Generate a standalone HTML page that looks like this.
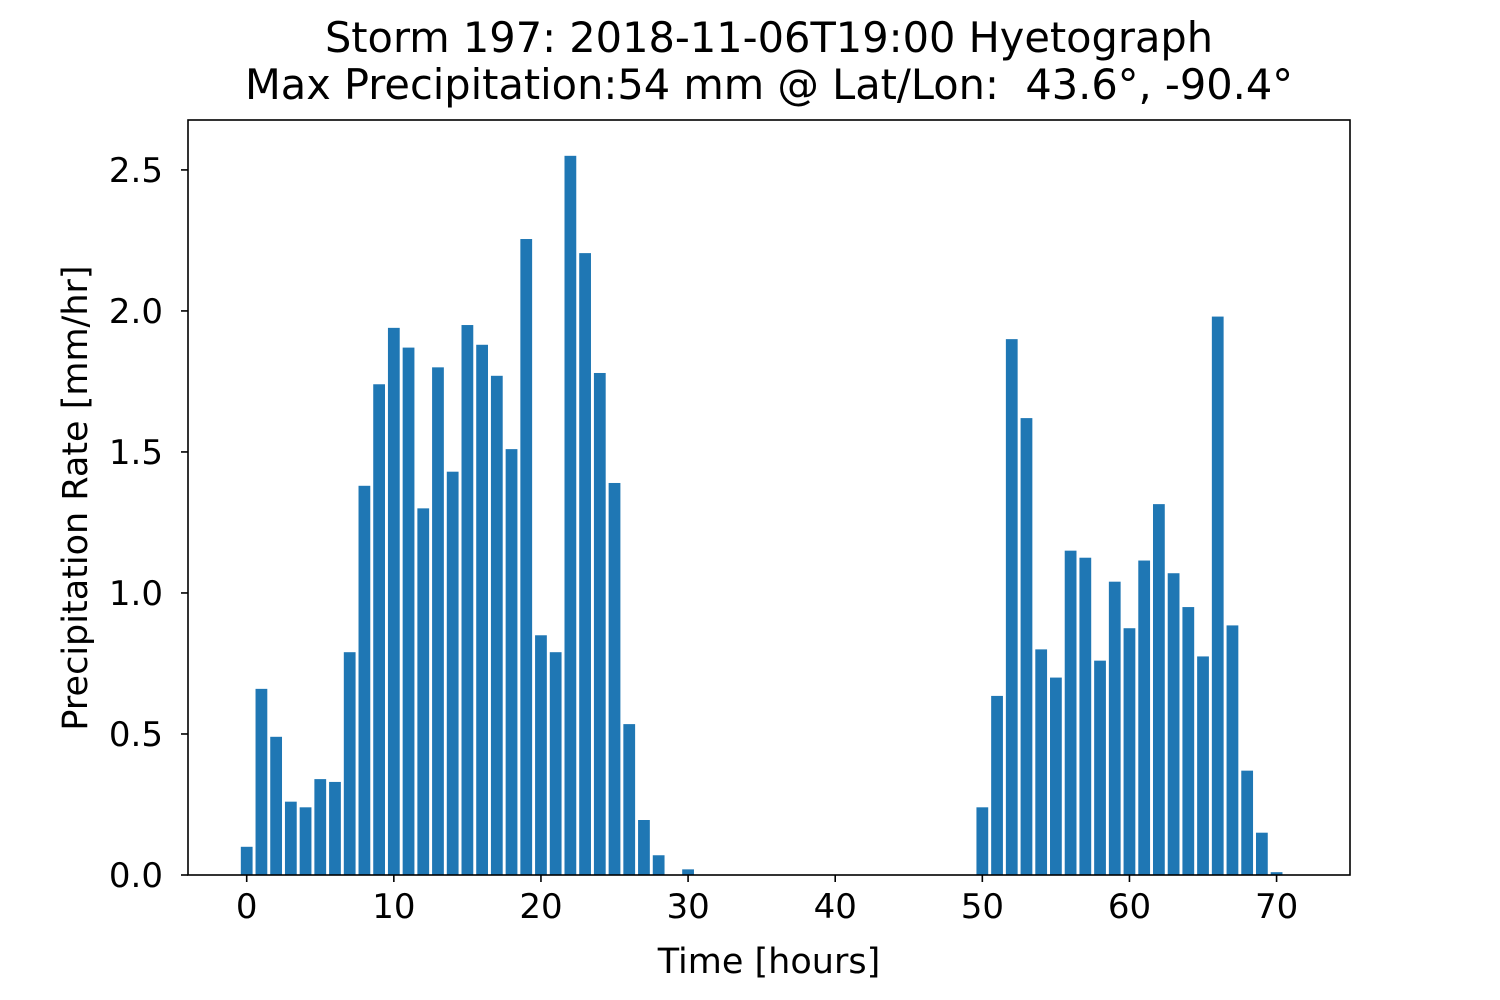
<!DOCTYPE html>
<html><head><meta charset="utf-8"><style>
body{margin:0;background:#fff;}
svg{display:block;font-family:"DejaVu Sans","Liberation Sans",sans-serif;}
</style></head><body>
<svg id="chart" width="1500" height="1000">
<text x="769" y="52" text-anchor="middle" font-size="41.5">Storm 197: 2018-11-06T19:00 Hyetograph</text>
<text x="769" y="99" text-anchor="middle" font-size="41.5">Max Precipitation:54 mm @ Lat/Lon:&#160; 43.6°, -90.4°</text>
<g id="bars"></g>
<g id="xticks"></g>
<g id="yticks"></g>
<rect x="188" y="120" width="1162" height="755" fill="none" stroke="#000" stroke-width="1.6"/>
<text x="769" y="973" text-anchor="middle" font-size="35">Time [hours]</text>
<text transform="translate(87,498) rotate(-90)" text-anchor="middle" font-size="35">Precipitation Rate [mm/hr]</text>
</svg>
<script>
const hours=[];for(let i=0;i<=71;i++)hours.push(i);
const rates=[0.10,0.66,0.49,0.26,0.24,0.34,0.33,0.79,1.38,1.74,1.94,1.87,1.30,1.80,1.43,1.95,1.88,1.77,1.51,2.255,0.85,0.79,2.55,2.205,1.78,1.39,0.535,0.195,0.07,0,0.02,
0,0,0,0,0,0,0,0,0,0,0,0,0,0,0,0,0,0,0,
0.24,0.635,1.90,1.62,0.80,0.70,1.15,1.125,0.76,1.04,0.875,1.115,1.315,1.07,0.95,0.775,1.98,0.885,0.37,0.15,0.01,0];
const xTicks=[0,10,20,30,40,50,60,70];
const yTicks=[0.0,0.5,1.0,1.5,2.0,2.5];
const NS="http://www.w3.org/2000/svg";
const L=188,R=1350,T=120,B=875;
const xmin=-3.99,xmax=74.99,ymin=0,ymax=2.677;
const xs=v=>L+(v-xmin)/(xmax-xmin)*(R-L);
const ys=v=>B-(v-ymin)/(ymax-ymin)*(B-T);
function mk(tag,attrs,parent){const e=document.createElementNS(NS,tag);for(const k in attrs)e.setAttribute(k,attrs[k]);parent.appendChild(e);return e;}
const bars=document.getElementById('bars');
hours.forEach((h,i)=>{const v=rates[i];if(!v)return;
const r=mk('rect',{x:xs(h-0.4),y:ys(v),width:xs(h+0.4)-xs(h-0.4),height:ys(0)-ys(v),fill:'#1f77b4'},bars);

});
const xg=document.getElementById('xticks');
xTicks.forEach(t=>{const x=xs(t);
const l=mk('line',{x1:x,x2:x,y1:B,y2:B+7,stroke:'#000','stroke-width':1.6},xg);


const tx=mk('text',{x:x,y:B+43,'text-anchor':'middle','font-size':34},xg);tx.textContent=t;

});
const yg=document.getElementById('yticks');
yTicks.forEach(t=>{const y=ys(t);
const l=mk('line',{x1:L-7,x2:L,y1:y,y2:y,stroke:'#000','stroke-width':1.6},yg);


const tx=mk('text',{x:L-25,y:y+12,'text-anchor':'end','font-size':34},yg);tx.textContent=t.toFixed(1);

});
</script>
</body></html>
